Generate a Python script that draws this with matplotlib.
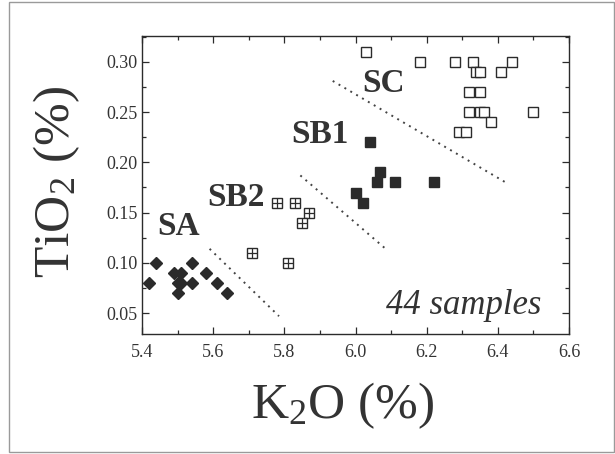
import matplotlib
matplotlib.use("Agg")
import matplotlib.pyplot as plt
from matplotlib.patches import Rectangle

plt.rcParams["font.family"] = ["Liberation Serif", "DejaVu Serif"]
plt.rcParams["mathtext.fontset"] = "custom"
plt.rcParams["mathtext.rm"] = "Liberation Serif"
plt.rcParams["mathtext.it"] = "Liberation Serif:italic"
plt.rcParams["mathtext.bf"] = "Liberation Serif:bold"

INK = "#2b2b2b"
TXT = "#333333"

# K2O (%) vs TiO2 (%) per group
sa_k2o = [5.42, 5.44, 5.49, 5.51, 5.50, 5.51, 5.50, 5.54, 5.54, 5.58, 5.61, 5.64]
sa_tio2 = [0.08, 0.10, 0.09, 0.09, 0.08, 0.08, 0.07, 0.10, 0.08, 0.09, 0.08, 0.07]

sb2_k2o = [5.78, 5.83, 5.87, 5.85, 5.71, 5.81]
sb2_tio2 = [0.16, 0.16, 0.15, 0.14, 0.11, 0.10]

sb1_k2o = [6.04, 6.00, 6.02, 6.06, 6.07, 6.11, 6.22]
sb1_tio2 = [0.22, 0.17, 0.16, 0.18, 0.19, 0.18, 0.18]

sc_k2o = [6.03, 6.18, 6.28, 6.33, 6.44, 6.34, 6.35, 6.41, 6.32, 6.35,
          6.32, 6.35, 6.36, 6.50, 6.38, 6.29, 6.31]
sc_tio2 = [0.31, 0.30, 0.30, 0.30, 0.30, 0.29, 0.29, 0.29, 0.27, 0.27,
           0.25, 0.25, 0.25, 0.25, 0.24, 0.23, 0.23]

# dotted group boundaries: (k2o start, k2o end), (tio2 start, tio2 end)
boundaries = [
    ((5.59, 5.785), (0.114, 0.047)),
    ((5.845, 6.088), (0.187, 0.113)),
    ((5.936, 6.427), (0.281, 0.179)),
]

fig = plt.figure(figsize=(6.15, 4.54), dpi=100)
ax = fig.add_axes([0.2309, 0.2637, 0.6943, 0.6577])

ax.plot(sa_k2o, sa_tio2, ls="none", marker="D", ms=6.2, color=INK)
ax.plot(sb2_k2o, sb2_tio2, ls="none", marker="s", ms=7, mfc="white", mec=INK, mew=1.0)
ax.plot(sb2_k2o, sb2_tio2, ls="none", marker="+", ms=7, mec=INK, mew=0.9)
ax.plot(sb1_k2o, sb1_tio2, ls="none", marker="s", ms=7.7, color=INK)
ax.plot(sc_k2o, sc_tio2, ls="none", marker="s", ms=6.8, mfc="white", mec=INK, mew=1.0)

for xs, ys in boundaries:
    ax.plot(xs, ys, ls=(0, (1, 2.5)), lw=1.4, color="#444444")

bold = dict(fontsize=24, fontweight="bold", color=TXT, ha="center", va="baseline")
ax.text(5.504, 0.128, "SA", **bold)
ax.text(5.664, 0.157, "SB2", **bold)
ax.text(5.900, 0.219, "SB1", **bold)
ax.text(6.078, 0.270, "SC", **bold)
ax.text(6.305, 0.049, "44 samples", fontsize=25, style="italic", color=TXT,
        ha="center", va="baseline")

ax.set_xlim(5.4, 6.6)
ax.set_ylim(0.029, 0.326)
ax.set_xticks([5.4, 5.6, 5.8, 6.0, 6.2, 6.4, 6.6])
ax.set_xticks([5.5, 5.7, 5.9, 6.1, 6.3, 6.5], minor=True)
ax.set_yticks([0.05, 0.10, 0.15, 0.20, 0.25, 0.30])
ax.set_yticks([0.075, 0.125, 0.175, 0.225, 0.275, 0.325], minor=True)
ax.set_yticklabels(["0.05", "0.10", "0.15", "0.20", "0.25", "0.30"])
ax.set_xticklabels(["5.4", "5.6", "5.8", "6.0", "6.2", "6.4", "6.6"])
ax.tick_params(which="both", direction="in", top=True, right=True, color=INK, width=0.9)
ax.tick_params(which="major", length=5, labelsize=13, labelcolor=TXT)
ax.tick_params(which="minor", length=3)
ax.tick_params(axis="x", pad=7)
ax.tick_params(axis="y", pad=3)
for sp in ax.spines.values():
    sp.set_color(INK)
    sp.set_linewidth(1.0)

fig.text(343 / 615, 1 - 418 / 454, "K$_2$O (%)", fontsize=37, color=TXT,
         ha="center", va="baseline")
fig.text(57 / 615, 1 - 182 / 454, "TiO$_2$ (%)", fontsize=37, color=TXT,
         ha="center", va="center", rotation=90)

fig.patches.append(Rectangle((9 / 615, 2 / 454), 605 / 615, 450 / 454,
                             transform=fig.transFigure, fill=False,
                             edgecolor="#9a9a9a", lw=1.0))

fig.savefig("out.png", dpi=100)
